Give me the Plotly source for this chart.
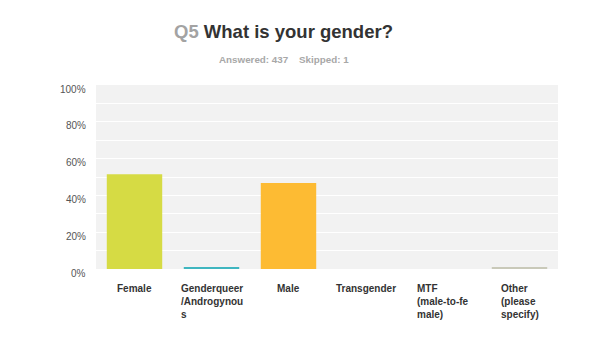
import plotly.graph_objects as go

# Survey responses for Q5 (437 answered)
categories = ["Female", "Genderqueer/Androgynous", "Male", "Transgender",
              "MTF (male-to-female)", "Other (please specify)"]
tick_labels = ["Female", "Genderqueer<br>/Androgynou<br>s", "Male", "Transgender",
               "MTF<br>(male-to-fe<br>male)", "Other<br>(please<br>specify)"]
percent = [51.5, 0.6, 46.8, 0.0, 0.0, 0.6]
bar_colors = ["#d6db44", "#3fb6c0", "#fdbb33", "#9c8bc4", "#e87a5e", "#c9c9b9"]
y_ticks = [0, 20, 40, 60, 80, 100]
y_tick_text = ["0%", "20%", "40%", "60%", "80%", "100%"]

FONT = "Arial, Liberation Sans, sans-serif"

fig = go.Figure(
    go.Bar(
        x=categories,
        y=percent,
        marker=dict(color=bar_colors, line=dict(width=0)),
        hovertemplate="%{x}: %{y:.2f}%<extra></extra>",
    )
)

# Category labels: block centred on the category, lines left-aligned
for cat, label in zip(categories, tick_labels):
    fig.add_annotation(
        x=cat, y=0, xref="x", yref="y",
        yshift=-12, yanchor="top", xanchor="center",
        text=f"<b>{label}</b>", align="left", showarrow=False,
        font=dict(family=FONT, size=10, color="#333333"),
    )

# Percentage labels on the value axis, sitting just below their gridline
for val, txt in zip(y_ticks, y_tick_text):
    fig.add_annotation(
        x=0, y=val, xref="paper", yref="y",
        xshift=-8, yshift=-4, xanchor="right", yanchor="middle",
        text=txt, showarrow=False,
        font=dict(family=FONT, size=10, color="#555555"),
    )

fig.add_annotation(
    x=283, y=32, xref="paper", yref="paper",
    text="<b><span style='color:#a3a3a3'>Q5</span> What is your gender?</b>",
    showarrow=False, font=dict(family=FONT, size=18.5, color="#333333"),
)
fig.add_annotation(
    x=284, y=60, xref="paper", yref="paper",
    text="<b>Answered: 437&nbsp;&nbsp;&nbsp;&nbsp;Skipped: 1</b>",
    showarrow=False, font=dict(family=FONT, size=9.8, color="#a8a8a8"),
)

# Title annotations are positioned in pixels from the page's top-left corner
W, H = 600, 339
L, R, T, B = 96, 42, 85, 70
for ann in fig.layout.annotations[-2:]:
    px, py = ann.x, ann.y
    ann.x = (px - L) / (W - L - R)
    ann.y = 1 + (T - py) / (H - T - B)
    ann.xanchor = "center"
    ann.yanchor = "middle"

fig.update_layout(
    width=W, height=H,
    margin=dict(l=L, r=R, t=T, b=B),
    paper_bgcolor="white",
    plot_bgcolor="#f2f2f2",
    bargap=0.28,
    showlegend=False,
    font=dict(family=FONT),
)
fig.update_xaxes(showticklabels=False, showgrid=False, zeroline=False,
                 showline=False, ticks="")
fig.update_yaxes(
    range=[0, 100], tickvals=y_ticks, showticklabels=False,
    showgrid=True, gridcolor="white", gridwidth=1,
    minor=dict(dtick=10, showgrid=True, gridcolor="white", gridwidth=1),
    zeroline=False, showline=False, ticks="",
    fixedrange=True,
)

fig.write_html("out.html")
